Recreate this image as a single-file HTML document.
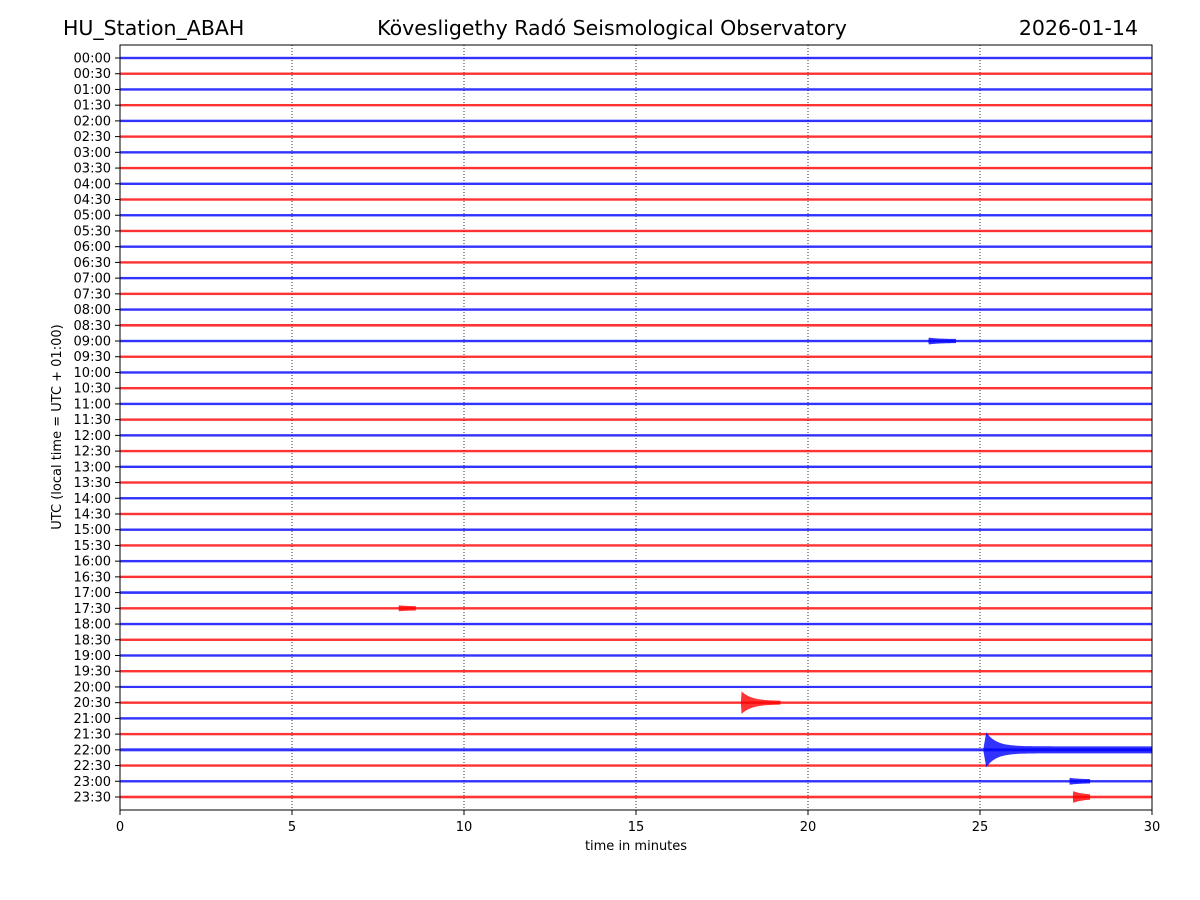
<!DOCTYPE html>
<html><head><meta charset="utf-8"><style>
body{margin:0;background:#fff;}
svg{display:block;font-family:"DejaVu Sans","Liberation Sans",sans-serif;}
</style></head><body>
<svg id="chart" width="1200" height="900" viewBox="0 0 1200 900" xmlns="http://www.w3.org/2000/svg">
<rect width="1200" height="900" fill="#fff"/>
<text x="63" y="35" font-size="20.5">HU_Station_ABAH</text>
<text x="612" y="35" font-size="20.5" text-anchor="middle">Kövesligethy Radó Seismological Observatory</text>
<text x="1138" y="35" font-size="20.5" text-anchor="end">2026-01-14</text>
<g id="grid"></g>
<g id="traces"></g>
<g id="events"></g>
<rect x="120" y="45" width="1032" height="765" fill="none" stroke="#000" stroke-width="1"/>
<g id="yticks"></g>
<g id="xticks"></g>
<text x="636" y="850" font-size="13" text-anchor="middle">time in minutes</text>
<text x="0" y="0" font-size="13" text-anchor="middle" transform="translate(61,427) rotate(-90)">UTC (local time = UTC + 01:00)</text>
</svg>
<script>
const xTicks=[0,5,10,15,20,25,30];
const traceLabels=[];for(let h=0;h<24;h++){for(const m of ['00','30'])traceLabels.push(String(h).padStart(2,'0')+':'+m);}
// noise band half-width per trace (px)
const noiseAmp=[1.2,1.2,1.2,1.2,1.2,1.2,1.2,1.2,1.2,1.2,1.2,1.2,1.2,1.2,1.2,1.2,1.2,1.3,1.2,1.2,1.2,1.2,1.2,1.2,1.2,1.2,1.2,1.2,1.2,1.2,1.2,1.2,1.2,1.2,1.3,1.2,1.2,1.2,1.2,1.2,1.1,1.2,1.2,1.2,1.5,1.2,1.2,1.3];
// events: trace index, start minute, end minute, peak amplitude (px), tail amplitude (px)
const evTrace=[18,35,41,44,46,47];
const evStart=[23.5,8.1,18.05,25.1,27.6,27.7];
const evEnd=[24.3,8.6,19.2,30,28.2,28.2];
const evPeak=[3.5,3,12,22,3.5,6];
const evTail=[2,2,1.8,3.5,2,2];
const X0=120,X1=1152,Y0=58,DY=(797-58)/47;
const xs=m=>X0+(m/30)*(X1-X0);
const ys=i=>Y0+i*DY;
const NS='http://www.w3.org/2000/svg';
function mk(t,a,p){const e=document.createElementNS(NS,t);for(const k in a)e.setAttribute(k,a[k]);p.appendChild(e);return e;}
const grid=document.getElementById('grid'),tr=document.getElementById('traces'),ev=document.getElementById('events'),yt=document.getElementById('yticks'),xt=document.getElementById('xticks');
xTicks.forEach(v=>{
  if(v>0&&v<30){const g=mk('line',{x1:xs(v),x2:xs(v),y1:45,y2:810,stroke:'#000','stroke-width':0.8,'stroke-dasharray':'1,2'},grid);
  
  }
  const t=mk('line',{x1:xs(v),x2:xs(v),y1:810,y2:815,stroke:'#000'},xt);
  
  
  const l=mk('text',{x:xs(v),y:831,'font-size':13,'text-anchor':'middle'},xt);l.textContent=v;
  
  
});
traceLabels.forEach((lab,i)=>{
  const c=i%2?'#ff0000':'#0000ff';
  const r=mk('rect',{x:X0,y:ys(i)-noiseAmp[i],width:X1-X0,height:2*noiseAmp[i],fill:c,opacity:0.8},tr);
  
  
  const t=mk('line',{x1:115,x2:120,y1:ys(i),y2:ys(i),stroke:'#000'},yt);
  
  
  const l=mk('text',{x:111,y:ys(i)+4.5,'font-size':13,'text-anchor':'end'},yt);l.textContent=lab;
  
  
});
evTrace.forEach((ti,k)=>{
  const c=ti%2?'#ff0000':'#0000ff';
  const s=evStart[k],e=evEnd[k],y=ys(ti);
  const top=[],bot=[];const n=60;
  for(let j=0;j<=n;j++){const m=s+(e-s)*j/n;const dm=m-s;
    const a=j===0?1.5:evTail[k]+(evPeak[k]-evTail[k])*Math.exp(-dm*3.5);
    top.push(xs(m)+','+(y-a));bot.unshift(xs(m)+','+(y+a));}
  const p=mk('polygon',{points:top.concat(bot).join(' '),fill:c,opacity:0.8},ev);
  
  
});
</script>
</body></html>
